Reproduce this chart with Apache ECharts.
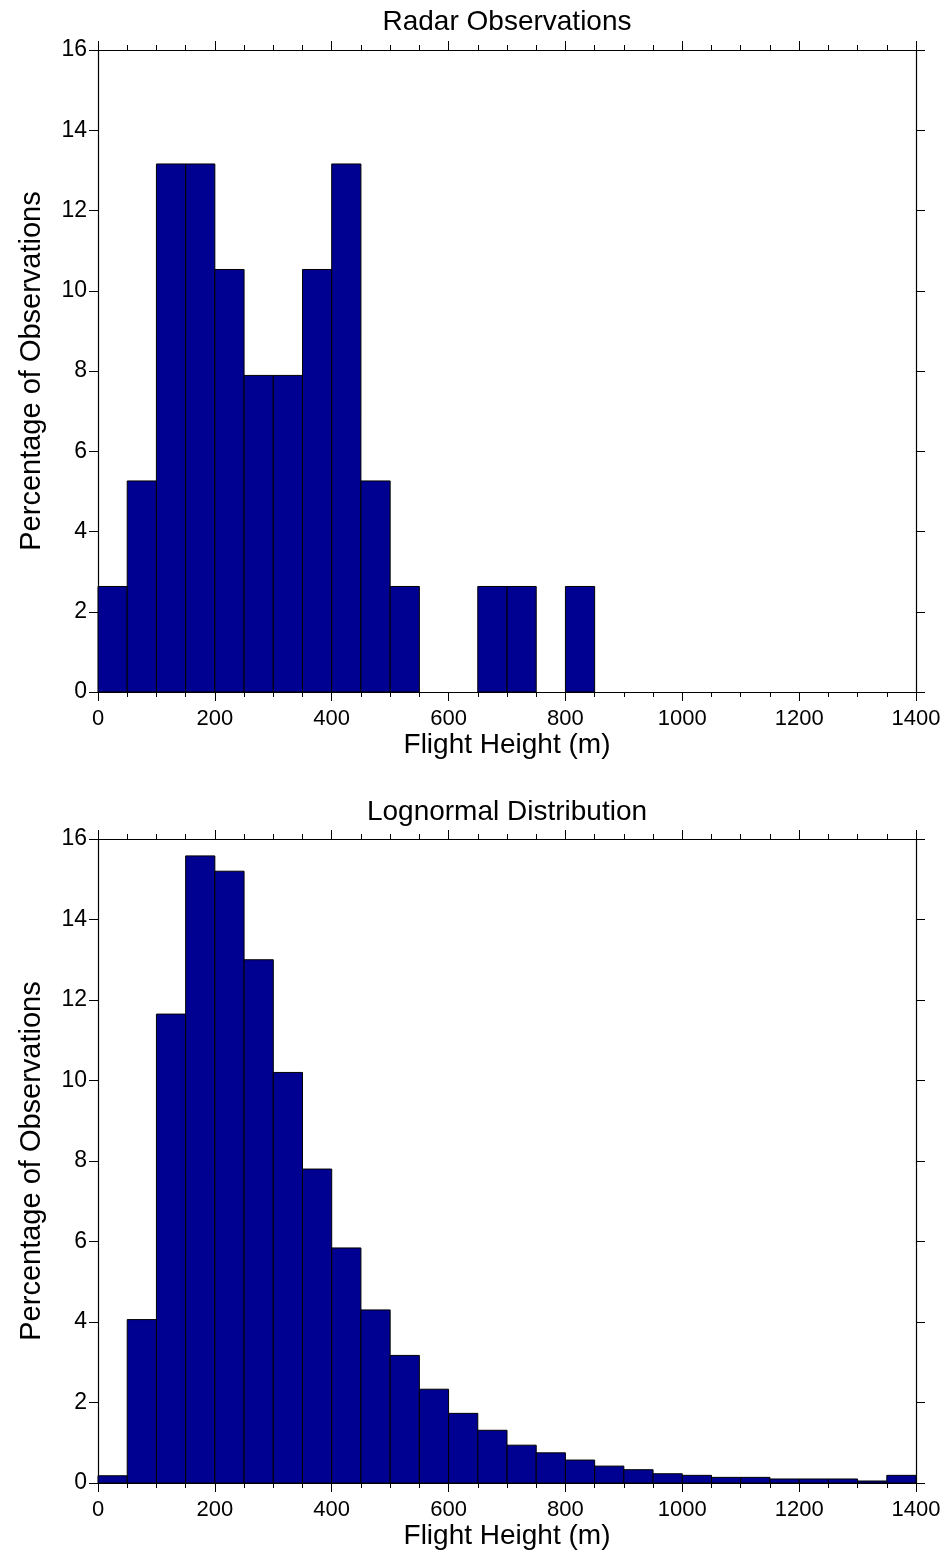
<!DOCTYPE html>
<html>
<head>
<meta charset="utf-8">
<script src="https://cdn.jsdelivr.net/npm/echarts@6/dist/echarts.min.js"></script>
<style>
  html, body { margin: 0; padding: 0; background: #fff; }
  #chart { width: 947px; height: 1568px; }
</style>
</head>
<body>
<div id="chart"></div>
<script>
// Flight-height bins (m): each bin starts at binStart and is binWidth wide
const binStart = [0, 50, 100, 150, 200, 250, 300, 350, 400, 450, 500, 550, 600, 650,
  700, 750, 800, 850, 900, 950, 1000, 1050, 1100, 1150, 1200, 1250, 1300, 1350];
const binWidth = 50;

// Percentage of observations per bin, radar data
const radarPct = [2.63, 5.26, 13.16, 13.16, 10.53, 7.89, 7.89, 10.53, 13.16, 5.26, 2.63, 0, 0, 2.63,
  2.63, 0, 2.63, 0, 0, 0, 0, 0, 0, 0, 0, 0, 0, 0];

// Percentage per bin, fitted lognormal distribution
const lognormPct = [0.18, 4.06, 11.65, 15.58, 15.2, 13.0, 10.2, 7.8, 5.84, 4.3, 3.17, 2.33, 1.73, 1.31,
  0.94, 0.75, 0.57, 0.42, 0.33, 0.23, 0.19, 0.14, 0.14, 0.1, 0.1, 0.1, 0.05, 0.19];

const titles = ['Radar Observations', 'Lognormal Distribution'];
const xTicks = { min: 0, max: 1400, interval: 200 };
const yTicks = { min: 0, max: 16, interval: 2 };

const FONT = 'Liberation Sans, Arial, sans-serif';
const BAR_FILL = '#000091';

function binRows(values) {
  return binStart.map((s, i) => [s, s + binWidth, values[i]]);
}

function renderBin(params, api) {
  const v = api.value(2);
  if (!(v > 0)) return null;
  const topLeft = api.coord([api.value(0), v]);
  const bottomRight = api.coord([api.value(1), 0]);
  return {
    type: 'rect',
    shape: {
      x: topLeft[0],
      y: topLeft[1],
      width: bottomRight[0] - topLeft[0],
      height: bottomRight[1] - topLeft[1]
    },
    style: { fill: BAR_FILL, stroke: '#000', lineWidth: 1 }
  };
}

const GRID_LEFT = 98, GRID_RIGHT = 31;
const grids = [
  { left: GRID_LEFT, right: GRID_RIGHT, top: 50, height: 642 },
  { left: GRID_LEFT, right: GRID_RIGHT, top: 839, height: 644 }
];
const titleY = [22, 812];

const axisLine = { show: true, onZero: false, lineStyle: { color: '#000', width: 1.2 } };
const plainNumber = v => String(v);

const xAxes = [], yAxes = [], series = [];
[radarPct, lognormPct].forEach((vals, g) => {
  // bottom axis with labels
  xAxes.push({
    type: 'value', gridIndex: g, position: 'bottom',
    min: xTicks.min, max: xTicks.max, interval: xTicks.interval,
    name: 'Flight Height (m)', nameLocation: 'middle', nameGap: 31,
    nameTextStyle: { fontFamily: FONT, fontSize: 28, color: '#000' },
    axisLine: axisLine,
    axisTick: { show: true, inside: false, length: 9, lineStyle: { color: '#000' } },
    minorTick: { show: true, splitNumber: 4, length: 5, lineStyle: { color: '#000' } },
    axisLabel: { fontFamily: FONT, fontSize: 22, color: '#000', margin: 16, formatter: plainNumber },
    splitLine: { show: false }
  });
  // mirrored top axis
  xAxes.push({
    type: 'value', gridIndex: g, position: 'top',
    min: xTicks.min, max: xTicks.max, interval: xTicks.interval,
    axisLine: axisLine,
    axisTick: { show: true, inside: false, length: 9, lineStyle: { color: '#000' } },
    minorTick: { show: true, splitNumber: 4, length: 5, lineStyle: { color: '#000' } },
    axisLabel: { show: false },
    splitLine: { show: false }
  });
  // left axis with labels
  yAxes.push({
    type: 'value', gridIndex: g, position: 'left',
    min: yTicks.min, max: yTicks.max, interval: yTicks.interval,
    name: 'Percentage of Observations', nameLocation: 'middle', nameGap: 52,
    nameTextStyle: { fontFamily: FONT, fontSize: 29, color: '#000' },
    axisLine: axisLine,
    axisTick: { show: true, inside: false, length: 9, lineStyle: { color: '#000' } },
    axisLabel: { fontFamily: FONT, fontSize: 23, color: '#000', margin: 11, formatter: plainNumber },
    splitLine: { show: false }
  });
  // mirrored right axis
  yAxes.push({
    type: 'value', gridIndex: g, position: 'right',
    min: yTicks.min, max: yTicks.max, interval: yTicks.interval,
    axisLine: axisLine,
    axisTick: { show: true, inside: false, length: 9, lineStyle: { color: '#000' } },
    axisLabel: { show: false },
    splitLine: { show: false }
  });
  series.push({
    type: 'custom',
    xAxisIndex: g * 2,
    yAxisIndex: g * 2,
    renderItem: renderBin,
    encode: { x: [0, 1], y: 2 },
    data: binRows(vals),
    silent: true,
    z: 1
  });
});

const chart = echarts.init(document.getElementById('chart'), null, { renderer: 'canvas' });
const plotCenterX = GRID_LEFT + (947 - GRID_LEFT - GRID_RIGHT) / 2;
chart.setOption({
  backgroundColor: '#fff',
  animation: false,
  // panel titles, centred over each plot area
  graphic: titles.map((t, i) => ({
    type: 'text',
    x: plotCenterX,
    y: titleY[i],
    style: {
      text: t,
      fontFamily: FONT,
      fontSize: 28,
      fill: '#000',
      align: 'center',
      verticalAlign: 'middle'
    }
  })),
  grid: grids,
  xAxis: xAxes,
  yAxis: yAxes,
  series: series
});
</script>
</body>
</html>
